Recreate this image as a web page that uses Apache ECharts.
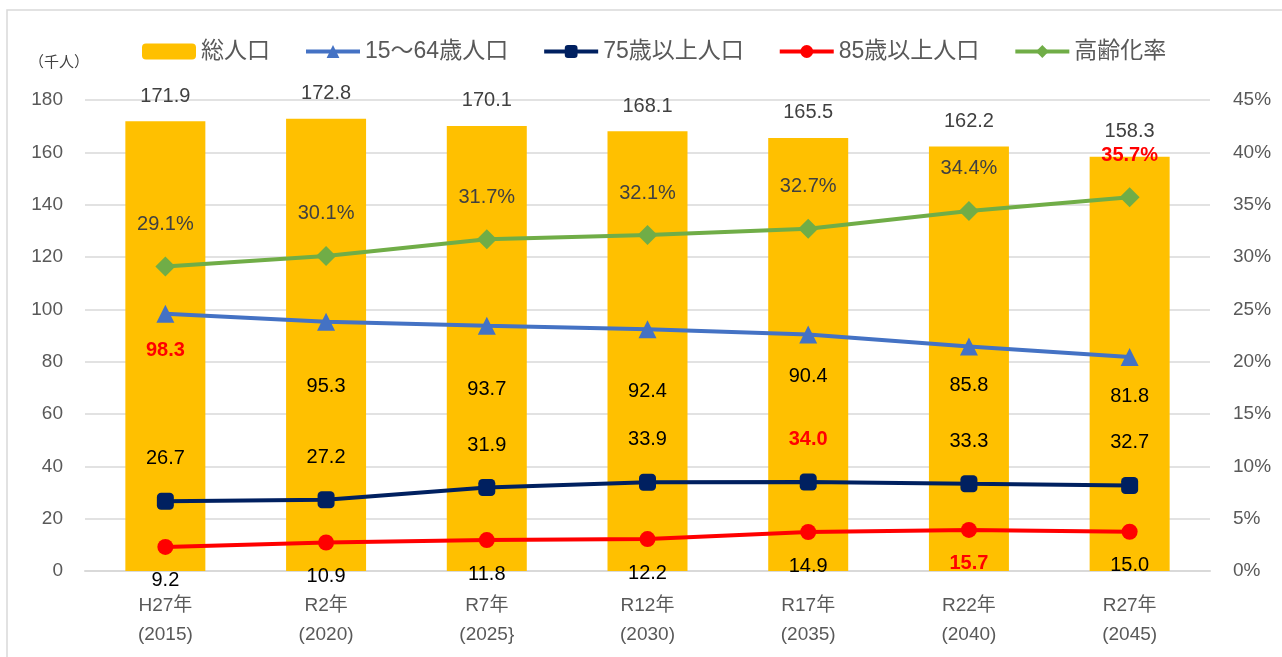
<!DOCTYPE html>
<html>
<head>
<meta charset="utf-8">
<script src="https://cdn.jsdelivr.net/npm/echarts@6/dist/echarts.min.js"></script>
<style>
  html, body { margin: 0; padding: 0; background: #fff; }
  #chart { width: 1282px; height: 657px; }
</style>
</head>
<body>
<div id="chart"></div>
<script>
const categories = ['H27年\n(2015)', 'R2年\n(2020)', 'R7年\n(2025}', 'R12年\n(2030)', 'R17年\n(2035)', 'R22年\n(2040)', 'R27年\n(2045)'];
const totalPop = [171.9, 172.8, 170.1, 168.1, 165.5, 162.2, 158.3];
const pop15to64 = [98.3, 95.3, 93.7, 92.4, 90.4, 85.8, 81.8];
const pop75plus = [26.7, 27.2, 31.9, 33.9, 34.0, 33.3, 32.7];
const pop85plus = [9.2, 10.9, 11.8, 12.2, 14.9, 15.7, 15.0];
const agingRate = [29.1, 30.1, 31.7, 32.1, 32.7, 34.4, 35.7];

// label distance for 15-64 (manually moved in the original)
const dist15to64 = [18, 46, 45, 43, 23, 20, 21];

const font = "'Liberation Sans', 'Noto Sans CJK JP', sans-serif";
const chart = echarts.init(document.getElementById('chart'));

// max value of each line series is drawn in red bold
const hiLabel = (arr, suffix) => p => {
  const txt = p.value.toFixed(1) + suffix;
  return p.value === Math.max(...arr) ? '{hi|' + txt + '}' : txt;
};
const hiRich = { hi: { color: '#ff0000', fontWeight: 'bold', fontSize: 20, fontFamily: font } };

const lineSeries = (name, data, color, symbol, size, pos, dist, suffix, yIndex, labelColor) => ({
  name: name,
  type: 'line',
  yAxisIndex: yIndex,
  data: data,
  symbol: symbol,
  symbolSize: size,
  itemStyle: { color: color },
  lineStyle: { color: color, width: 4 },
  label: {
    show: true,
    position: pos,
    distance: dist,
    fontSize: 20,
    fontFamily: font,
    color: labelColor,
    formatter: hiLabel(data, suffix),
    rich: hiRich
  },
  z: 3
});

const s15 = lineSeries('15～64歳人口', pop15to64, '#4472c4', 'triangle', 18, 'bottom', 20, '', 0, '#000');
s15.data = pop15to64.map((v, i) => ({ value: v, label: { distance: dist15to64[i] } }));

const option = {
  animation: false,
  backgroundColor: '#fff',
  textStyle: { fontFamily: font },
  title: {
    text: '（千人）',
    left: 24,
    top: 50,
    textStyle: { fontSize: 15, fontWeight: 'normal', color: '#404040', fontFamily: font }
  },
  graphic: [{
    type: 'rect',
    shape: { x: 7, y: 10, width: 1400, height: 800 },
    style: { fill: 'none', stroke: '#d9d9d9', lineWidth: 1.5 },
    silent: true
  }],
  legend: {
    top: 35,
    left: 137,
    itemWidth: 54,
    itemHeight: 16,
    itemGap: 34,
    textStyle: { fontSize: 23, color: '#595959', fontFamily: font },
    lineStyle: { width: 4 },
    data: ['総人口', '15～64歳人口', '75歳以上人口', '85歳以上人口', '高齢化率']
  },
  grid: { left: 85, right: 72, top: 100, bottom: 86 },
  xAxis: {
    type: 'category',
    data: categories,
    axisTick: { show: false },
    axisLine: { lineStyle: { color: '#d9d9d9', width: 2 } },
    axisLabel: { fontSize: 19, color: '#595959', lineHeight: 29, margin: 20, fontFamily: font }
  },
  yAxis: [{
    type: 'value',
    min: 0,
    max: 180,
    interval: 20,
    axisLine: { show: false },
    axisTick: { show: false },
    splitLine: { lineStyle: { color: '#d9d9d9', width: 1.5 } },
    axisLabel: { fontSize: 19, color: '#595959', margin: 22, fontFamily: font }
  }, {
    type: 'value',
    min: 0,
    max: 45,
    interval: 5,
    axisLine: { show: false },
    axisTick: { show: false },
    splitLine: { show: false },
    axisLabel: { fontSize: 19, color: '#595959', margin: 23, formatter: '{value}%', fontFamily: font }
  }],
  series: [
    {
      name: '総人口',
      type: 'bar',
      data: totalPop,
      barWidth: 80,
      itemStyle: { color: '#ffc000' },
      label: {
        show: true,
        position: 'top',
        distance: 15,
        fontSize: 20,
        color: '#404040',
        fontFamily: font,
        formatter: p => p.value.toFixed(1)
      },
      z: 1
    },
    s15,
    lineSeries('75歳以上人口', pop75plus, '#002060', 'roundRect', 17, 'top', 24, '', 0, '#000'),
    lineSeries('85歳以上人口', pop85plus, '#ff0000', 'circle', 16, 'bottom', 16, '', 0, '#000'),
    lineSeries('高齢化率', agingRate, '#70ad47', 'diamond', 20, 'top', 22, '%', 1, '#404040')
  ]
};

chart.setOption(option);
</script>
</body>
</html>
